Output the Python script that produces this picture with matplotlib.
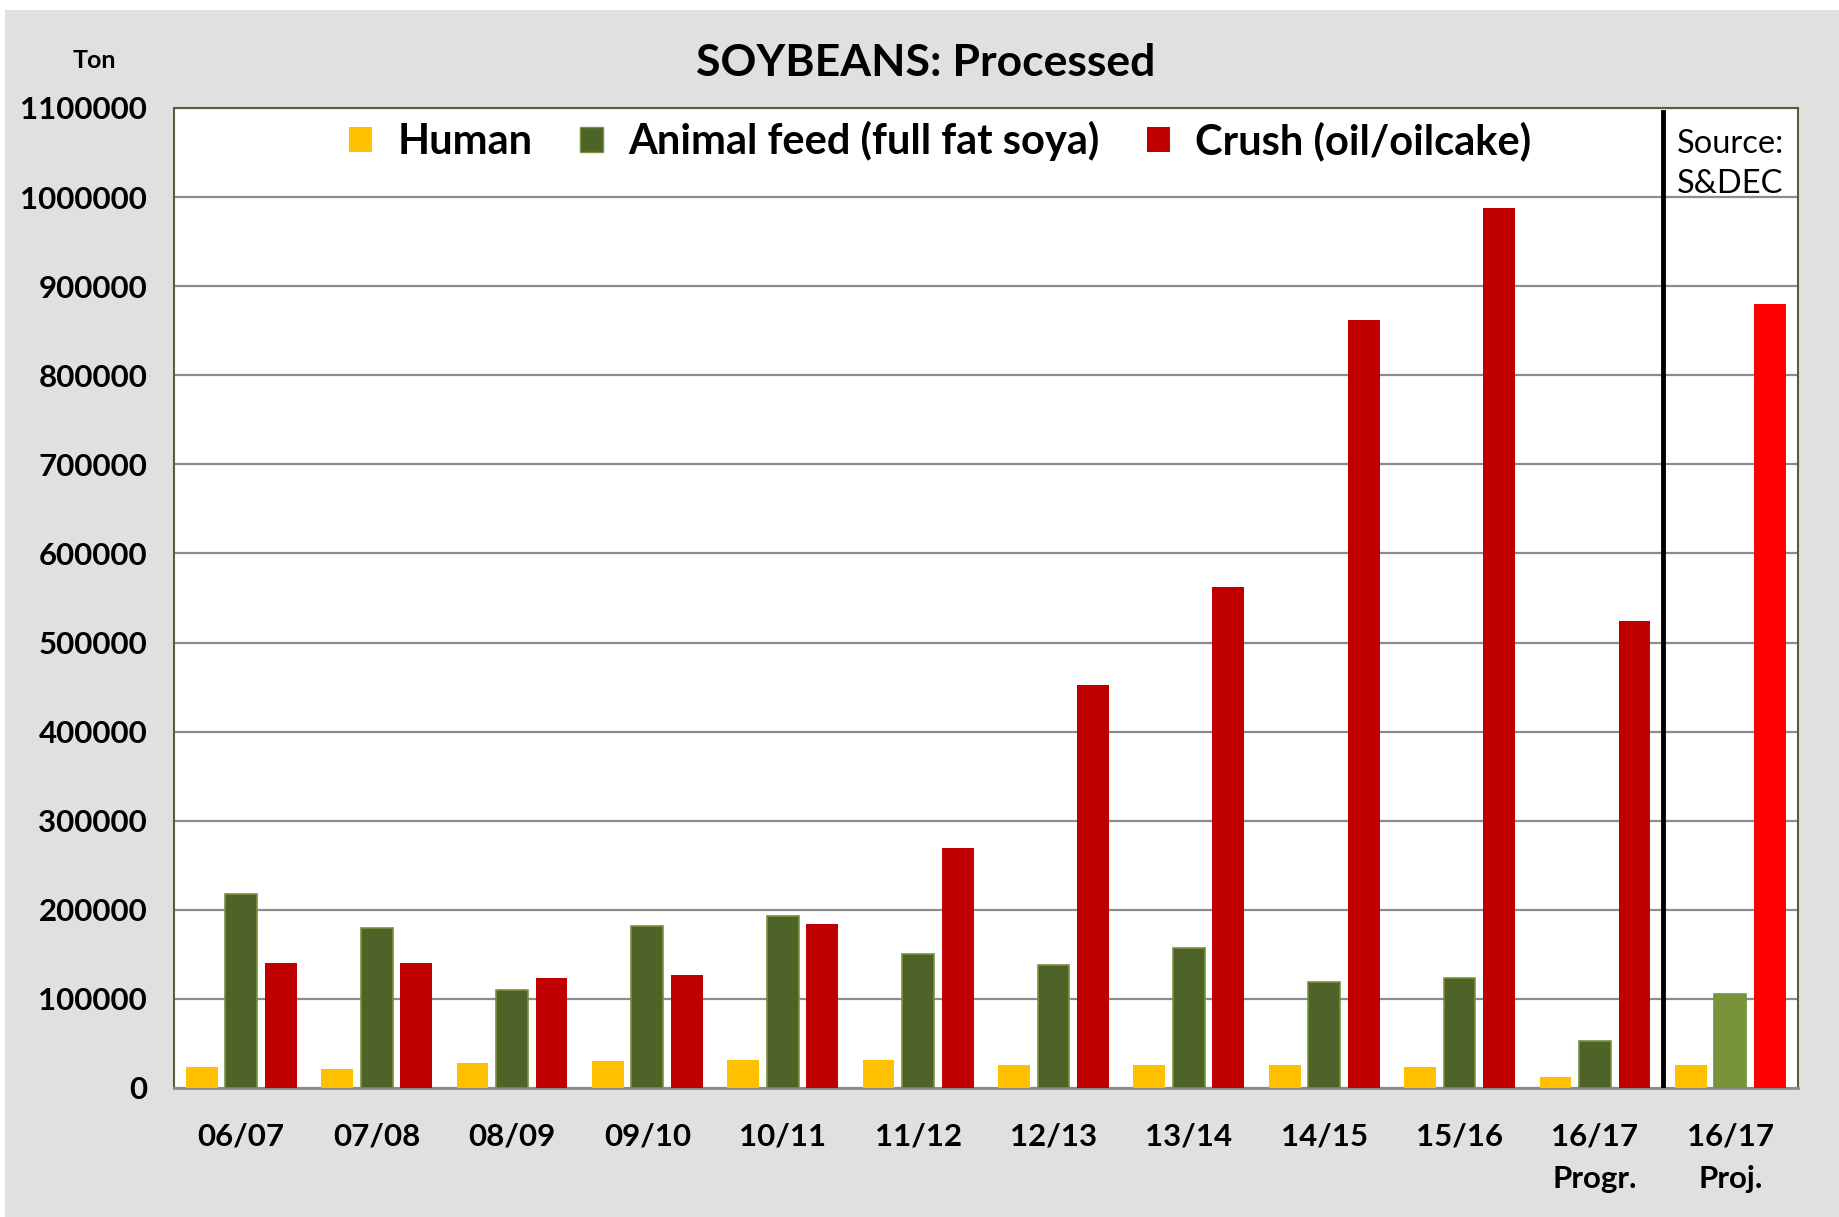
import matplotlib.pyplot as plt
import numpy as np
from matplotlib.patches import Patch, Rectangle

plt.rcParams['font.family'] = ['Lato', 'DejaVu Sans']

seasons = ["06/07", "07/08", "08/09", "09/10", "10/11", "11/12", "12/13",
           "13/14", "14/15", "15/16", "16/17\nProgr.", "16/17\nProj."]
human = [23600, 21000, 27600, 29900, 31800, 31800, 25400,
         25400, 25400, 23600, 12700, 25400]
animal_feed = [218000, 180000, 110000, 182000, 192600, 150000, 137600,
               156700, 118500, 123000, 52700, 105800]
crush = [140000, 140000, 123000, 127000, 184000, 269000, 452000,
         562000, 862000, 988000, 524000, 880000]

yticks = list(range(0, 1100001, 100000))

c_human = "#FFC000"
c_animal = ["#4F6228"] * 11 + ["#77933C"]
c_crush = ["#C00000"] * 11 + ["#FF0000"]

fig = plt.figure(figsize=(18.39, 12.17), dpi=100, facecolor="white")
# grey chart area
fig.patches.append(Rectangle((5 / 1839, 0), 1, 1 - 10 / 1217, transform=fig.transFigure,
                             facecolor="#E0E0E0", edgecolor="none", zorder=-10))

ax = fig.add_axes([0.0944, 0.106, 0.8833, 0.8053])
ax.set_facecolor("white")

x = np.arange(len(seasons))
w = 0.235
step = 0.292
ax.bar(x - step, human, w, color=c_human, zorder=3)
ax.bar(x, animal_feed, w, color=c_animal, edgecolor="#77933C", linewidth=1.2, zorder=3)
ax.bar(x + step, crush, w, color=c_crush, zorder=3)

ax.set_xlim(-0.5, len(seasons) - 0.5)
ax.set_ylim(0, 1100000)
ax.set_yticks(yticks)
ax.set_yticklabels([str(v) for v in yticks], fontsize=22.5, fontweight="bold")
ax.set_xticks(x)
ax.set_xticklabels(seasons, fontsize=22.5, fontweight="bold", linespacing=1.6)
ax.tick_params(axis="both", length=0)
ax.tick_params(axis="x", pad=25)
ax.tick_params(axis="y", pad=19)
ax.yaxis.grid(True, color="#8C8C8C", linewidth=1.6, zorder=0)
ax.set_axisbelow(True)

for s in ["left", "top", "right"]:
    ax.spines[s].set_color("#5E5A3E")
    ax.spines[s].set_linewidth(1.5)
ax.spines["bottom"].set_color("#8C8C8C")
ax.spines["bottom"].set_linewidth(2)

ax.axvline(10.5, ymin=0, ymax=0.996, color="black", linewidth=3.5, zorder=4)
ax.text(11, 1037000, "Source:\nS&DEC", ha="center", va="center", fontsize=23.5,
        linespacing=1.45, zorder=5)

handles = [Patch(facecolor=c_human, label="Human"),
           Patch(facecolor="#4F6228", edgecolor="#77933C", label="Animal feed (full fat soya)"),
           Patch(facecolor="#C00000", label="Crush (oil/oilcake)")]
leg = ax.legend(handles=handles, loc="center", bbox_to_anchor=(0.472, 0.966),
                ncol=3, frameon=False, handlelength=0.55, handleheight=0.55,
                handletextpad=0.6, columnspacing=1.15,
                prop={"size": 30, "weight": "bold"})

fig.text(926 / 1839, 1 - 63 / 1217, "SOYBEANS: Processed", ha="center", va="center",
         fontsize=32, fontweight="bold")
fig.text(94 / 1839, 1 - 61 / 1217, "Ton", ha="center", va="center",
         fontsize=18, fontweight="bold")

fig.savefig("out.png", dpi=100, facecolor=fig.get_facecolor())
